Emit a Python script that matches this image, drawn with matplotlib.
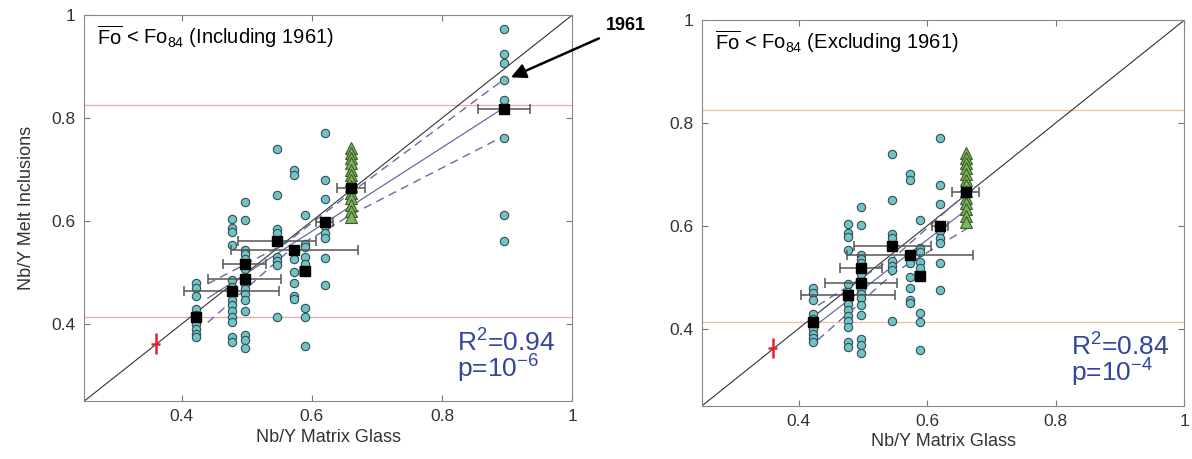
import numpy as np
import matplotlib.pyplot as plt

plt.rcParams['font.family'] = ['Liberation Sans', 'DejaVu Sans']
plt.rcParams['mathtext.fontset'] = 'custom'
plt.rcParams['mathtext.rm'] = 'Liberation Sans'
plt.rcParams['mathtext.it'] = 'Liberation Sans:italic'
plt.rcParams['mathtext.bf'] = 'Liberation Sans:bold'

# Nb/Y of matrix glass, one value per eruption (last one is 1961)
glass_nby = [0.422, 0.477, 0.497, 0.546, 0.573, 0.589, 0.620, 0.895]

# Nb/Y of melt inclusions for each eruption (same order as glass_nby)
mi_nby = [
    [0.479, 0.469, 0.455, 0.429, 0.418, 0.408, 0.399, 0.390, 0.381, 0.374],
    [0.604, 0.586, 0.579, 0.553, 0.486, 0.471, 0.458, 0.447, 0.436, 0.425,
     0.414, 0.404, 0.374, 0.365],
    [0.637, 0.602, 0.544, 0.536, 0.527, 0.517, 0.506, 0.491, 0.478, 0.468,
     0.459, 0.446, 0.426, 0.379, 0.368, 0.353],
    [0.739, 0.650, 0.584, 0.577, 0.561, 0.531, 0.522, 0.515, 0.414],
    [0.700, 0.690, 0.543, 0.527, 0.501, 0.479, 0.455, 0.449],
    [0.612, 0.556, 0.549, 0.530, 0.517, 0.502, 0.431, 0.413, 0.358],
    [0.771, 0.680, 0.643, 0.599, 0.590, 0.577, 0.567, 0.528, 0.475],
    [0.974, 0.925, 0.907, 0.874, 0.836, 0.762, 0.611, 0.561],
]

# green triangles
tri_x = 0.660
tri_y = [0.742, 0.732, 0.722, 0.712, 0.700, 0.690, 0.680, 0.668, 0.655,
         0.645, 0.632, 0.620, 0.608]

# eruption means (black squares) with x error
mean_x = [0.422, 0.477, 0.497, 0.497, 0.546, 0.573, 0.589, 0.620, 0.660, 0.895]
mean_y = [0.413, 0.465, 0.488, 0.517, 0.561, 0.544, 0.502, 0.599, 0.665, 0.818]
mean_xerr = [0.004, 0.073, 0.056, 0.033, 0.060, 0.098, 0.008, 0.013, 0.021, 0.040]

# red reference point
ref_x, ref_y, ref_xerr, ref_yerr = 0.360, 0.362, 0.007, 0.020

# Fo84 limits
fo_lines = [0.826, 0.413]

# regression lines and bounds, including 1961
fit_in_x = [0.44, 0.895]
fit_in_y = [0.450, 0.820]
ci_in_x = [0.44, 0.56, 0.66, 0.895]
ci_in_hi = [0.478, 0.557, 0.655, 0.875]
ci_in_lo = [0.403, 0.537, 0.612, 0.765]

# regression lines and bounds, excluding 1961
fit_ex_x = [0.42, 0.665]
fit_ex_y = [0.400, 0.635]
ci_ex_x = [0.43, 0.55, 0.665]
ci_ex_hi = [0.445, 0.540, 0.668]
ci_ex_lo = [0.378, 0.510, 0.597]

circ_fc = '#72c2c6'
circ_ec = '#2f4f55'
fit_c = '#5f6ea3'
txt_blue = '#32469b'


def panel(ax, ncols, nmeans, fit_x, fit_y, ci_x, ci_hi, ci_lo, hcol, title, r2, p):
    ax.set_xlim(0.25, 1)
    ax.set_ylim(0.25, 1)

    for yv in fo_lines:
        ax.axhline(yv, color=hcol, lw=0.9, zorder=1)
    ax.plot([0.25, 1], [0.25, 1], color='#333333', lw=0.8, zorder=2)

    ax.plot(fit_x, fit_y, color=fit_c, lw=0.9, zorder=2)
    ax.plot(ci_x, ci_hi, color=fit_c, lw=1.0, dashes=(6, 4), zorder=2)
    ax.plot(ci_x, ci_lo, color=fit_c, lw=1.0, dashes=(6, 4), zorder=2)

    for i in range(ncols):
        ax.plot([glass_nby[i]] * len(mi_nby[i]), mi_nby[i], 'o', ms=6,
                mfc=circ_fc, mec=circ_ec, mew=0.8, zorder=3)

    ax.plot([tri_x] * len(tri_y), tri_y, '^', ms=8.5, mfc='#7db55a',
            mec='#3c5a2c', mew=0.8, zorder=3)

    ax.errorbar(mean_x[:nmeans], mean_y[:nmeans], xerr=mean_xerr[:nmeans],
                fmt='s', ms=6.5, mfc='black', mec='black', ecolor='#555555',
                elinewidth=1.1, capsize=3.5, capthick=1.1, zorder=4)

    ax.errorbar([ref_x], [ref_y], xerr=[ref_xerr], yerr=[ref_yerr], fmt='none',
                ecolor='#e8202a', elinewidth=1.8, zorder=4)

    ax.set_xticks([0.4, 0.6, 0.8, 1])
    ax.set_xticklabels(['0.4', '0.6', '0.8', '1'])
    ax.set_yticks([0.4, 0.6, 0.8, 1])
    ax.set_yticklabels(['0.4', '0.6', '0.8', '1'])
    ax.tick_params(direction='in', top=True, right=True, length=4,
                   color='#777777', labelsize=12.5, labelcolor='#333333', pad=6)
    for s in ax.spines.values():
        s.set_color('#888888')
        s.set_linewidth(0.8)

    ax.set_xlabel('Nb/Y Matrix Glass', fontsize=13, color='#333333', labelpad=3)

    ax.text(0.027, 0.925, r'$\overline{\mathrm{Fo}}$' + ' < Fo$_{84}$ ' + title,
            transform=ax.transAxes, fontsize=14.5, va='baseline', ha='left')
    ax.text(0.765, 0.115, 'R$^2$=' + r2 + '\np=10$^{' + p + '}$',
            transform=ax.transAxes, fontsize=19, color=txt_blue,
            ha='left', va='center', linespacing=0.85)


fig = plt.figure(figsize=(11.92, 4.59), dpi=100)
ax1 = fig.add_axes([0.0706, 0.126, 0.4094, 0.841])
ax2 = fig.add_axes([0.589, 0.116, 0.4045, 0.840])

panel(ax1, 8, 10, fit_in_x, fit_in_y, ci_in_x, ci_in_hi, ci_in_lo,
      '#e6a9ad', '(Including 1961)', '0.94', '-6')
panel(ax2, 7, 9, fit_ex_x, fit_ex_y, ci_ex_x, ci_ex_hi, ci_ex_lo,
      '#f2bf9c', '(Excluding 1961)', '0.84', '-4')

ax1.set_ylabel('Nb/Y Melt Inclusions', fontsize=13, color='#333333', labelpad=12)

# 1961 label and arrow
ax1.text(1.052, 0.98, '1961', fontsize=13, fontweight='bold', ha='left',
         va='center', clip_on=False)
ax1.annotate('', xy=(0.902, 0.877), xytext=(1.045, 0.957),
             arrowprops=dict(arrowstyle='-|>', color='black', lw=1.8,
                             mutation_scale=22),
             annotation_clip=False)

fig.savefig('out.png', dpi=100)
